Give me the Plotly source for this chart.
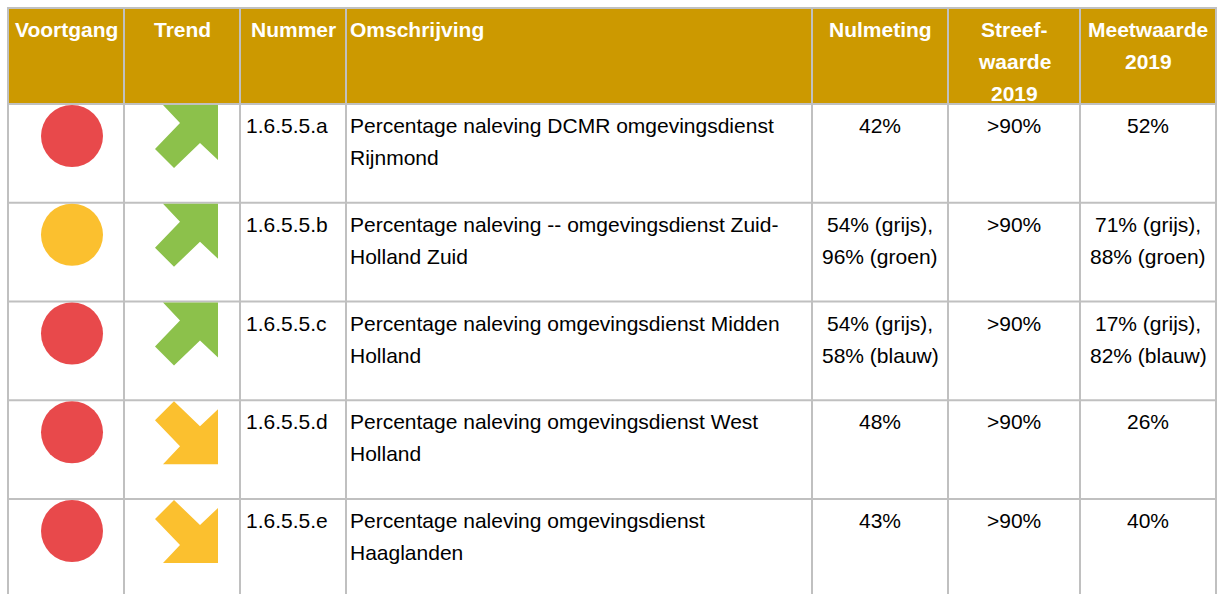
import plotly.graph_objects as go

# ---------------- data ----------------
headers = ["Voortgang", "Trend", "Nummer", "Omschrijving", "Nulmeting",
           "Streef-\nwaarde\n2019", "Meetwaarde\n2019"]
voortgang = ["rood", "oranje", "rood", "rood", "rood"]
trend = ["stijgend", "stijgend", "stijgend", "dalend", "dalend"]
nummer = ["1.6.5.5.a", "1.6.5.5.b", "1.6.5.5.c", "1.6.5.5.d", "1.6.5.5.e"]
omschrijving = [
    "Percentage naleving DCMR omgevingsdienst\nRijnmond",
    "Percentage naleving -- omgevingsdienst Zuid-\nHolland Zuid",
    "Percentage naleving omgevingsdienst Midden\nHolland",
    "Percentage naleving omgevingsdienst West\nHolland",
    "Percentage naleving omgevingsdienst\nHaaglanden",
]
nulmeting = ["42%", "54% (grijs),\n96% (groen)", "54% (grijs),\n58% (blauw)", "48%", "43%"]
streefwaarde = [">90%", ">90%", ">90%", ">90%", ">90%"]
meetwaarde = ["52%", "71% (grijs),\n88% (groen)", "17% (grijs),\n82% (blauw)", "26%", "40%"]

# ---------------- layout / style ----------------
W, H = 1217, 594
COL_EDGES = [8, 124, 240, 346, 812, 948, 1080, 1216]
TABLE_TOP = 8
HEADER_BOTTOM = 104
ROW_H = 98.75
FONT = "Liberation Sans, Arial, Helvetica, sans-serif"
FS = 21
LINE_GAP = 32
FIRST_LINE = 21.5
GRID = "#C0C0C0"
GOLD = "#CC9900"
STATUS_COLORS = {"rood": "#E8494B", "oranje": "#FBC02F"}
TREND_COLORS = {"stijgend": "#8CC14B", "dalend": "#FBC02F"}
ARROW_UP = [(8, 0), (63, 0), (63, 55), (45, 38), (19, 63), (0, 44), (25, 18)]
ARROW_DOWN = [(x, 63 - y) for x, y in ARROW_UP]
ICON_LEFT = 155
CIRCLE_X = 72
CIRCLE_D = 62

header_align = ["center", "center", "center", "left", "center", "center", "center"]
body_align = ["center", "center", "left", "left", "center", "center", "center"]
PAD = {2: 4.5, 3: 3}

n_rows = len(nummer)
row_tops = [HEADER_BOTTOM + i * ROW_H for i in range(n_rows)]

fig = go.Figure()

# header background
fig.add_shape(type="rect", x0=COL_EDGES[0], x1=COL_EDGES[-1], y0=TABLE_TOP, y1=HEADER_BOTTOM,
              fillcolor=GOLD, line_width=0, layer="below")
# horizontal grid lines
for y in [TABLE_TOP, HEADER_BOTTOM] + row_tops[1:] + [HEADER_BOTTOM + n_rows * ROW_H]:
    fig.add_shape(type="line", x0=COL_EDGES[0] - 1, x1=COL_EDGES[-1] + 1, y0=y, y1=y,
                  line=dict(color=GRID, width=2), layer="below")
# vertical grid lines
for x in COL_EDGES:
    fig.add_shape(type="line", x0=x, x1=x, y0=TABLE_TOP, y1=H + 10,
                  line=dict(color=GRID, width=2), layer="below")


def add_cell_text(col, top, text, align, bold=False, color="#000000"):
    lines = text.split("\n")
    if align == "center":
        x = (COL_EDGES[col] + COL_EDGES[col + 1]) / 2
        xanchor = "center"
    else:
        x = COL_EDGES[col] + PAD.get(col, 4)
        xanchor = "left"
    for i, ln in enumerate(lines):
        txt = "<b>%s</b>" % ln if bold else ln
        fig.add_annotation(x=x, y=top + FIRST_LINE + i * LINE_GAP, text=txt, showarrow=False,
                           xanchor=xanchor, yanchor="middle", xref="x", yref="y",
                           font=dict(family=FONT, size=FS, color=color), borderpad=0)


for c, h in enumerate(headers):
    add_cell_text(c, TABLE_TOP, h, header_align[c], bold=True, color="#FFFFFF")

columns = [None, None, nummer, omschrijving, nulmeting, streefwaarde, meetwaarde]
for r in range(n_rows):
    for c in range(2, 7):
        add_cell_text(c, row_tops[r], columns[c][r], body_align[c])

# status circles
fig.add_trace(go.Scatter(
    x=[CIRCLE_X] * n_rows,
    y=[t + 1 + CIRCLE_D / 2 for t in row_tops],
    mode="markers",
    marker=dict(size=CIRCLE_D, color=[STATUS_COLORS[v] for v in voortgang], line_width=0),
    hoverinfo="skip", showlegend=False))

# trend arrows
for r, t in enumerate(trend):
    shape = ARROW_UP if t == "stijgend" else ARROW_DOWN
    xs = [ICON_LEFT + p[0] for p in shape] + [ICON_LEFT + shape[0][0]]
    ys = [row_tops[r] + 1 + p[1] for p in shape] + [row_tops[r] + 1 + shape[0][1]]
    fig.add_trace(go.Scatter(x=xs, y=ys, mode="lines", fill="toself",
                             fillcolor=TREND_COLORS[t], line=dict(width=0, color=TREND_COLORS[t]),
                             hoverinfo="skip", showlegend=False))

fig.update_layout(
    width=W, height=H, margin=dict(l=0, r=0, t=0, b=0),
    paper_bgcolor="white", plot_bgcolor="white",
    xaxis=dict(range=[0, W], visible=False, fixedrange=True),
    yaxis=dict(range=[H, 0], visible=False, fixedrange=True),
    showlegend=False,
)

fig.write_html("out.html", config={"displayModeBar": False},
               post_script="document.body.style.margin='0';document.body.style.overflow='hidden';")
